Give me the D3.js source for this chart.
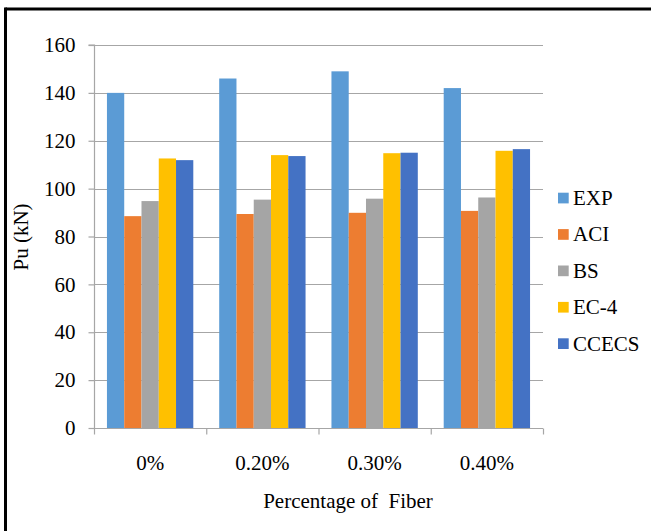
<!DOCTYPE html>
<html><head><meta charset="utf-8">
<script src="https://cdn.jsdelivr.net/npm/d3@7"></script>
<style>body{margin:0;background:#fff}svg{display:block}</style>
</head><body><svg id="c" width="651" height="531"></svg>
<script>
const categories = ["0%", "0.20%", "0.30%", "0.40%"];
const seriesNames = ["EXP", "ACI", "BS", "EC-4", "CCECS"];
const EXP = [140, 146, 149, 142];
const ACI = [88.5, 89.4, 89.9, 90.7];
const BS = [94.8, 95.4, 95.8, 96.3];
const EC4 = [112.6, 114, 114.8, 115.8];
const CCECS = [111.9, 113.6, 115, 116.5];
const yTicks = [0, 20, 40, 60, 80, 100, 120, 140, 160];
const colors = ["#5b9bd5", "#ed7d31", "#a5a5a5", "#ffc000", "#4472c4"];
const seriesValues = [EXP, ACI, BS, EC4, CCECS];

(function(){
const FONT = "Liberation Serif";
const FS = 21;
const svg = d3.select("#c");
// frame
svg.append("line").attr("x1",5.5).attr("x2",651).attr("y1",9).attr("y2",9).attr("stroke","#000").attr("stroke-width",3);
svg.append("line").attr("x1",5.5).attr("x2",5.5).attr("y1",7.5).attr("y2",531).attr("stroke","#000").attr("stroke-width",3);

const pLeft = 94, pRight = 543, pTop = 45, pBottom = 428;
const x = d3.scaleBand().domain(categories).range([pLeft, pRight]).paddingInner(0).paddingOuter(0);
const xs = d3.scaleBand().domain(seriesNames).range([0, x.bandwidth()]).paddingOuter(0.75).paddingInner(0);
const y = d3.scaleLinear().domain([0, 160]).range([pBottom, pTop]);

// gridlines
svg.append("g").selectAll("line").data(yTicks.filter(d=>d>0)).join("line")
  .attr("x1", pLeft).attr("x2", pRight)
  .attr("y1", d=>Math.round(y(d))+0.5).attr("y2", d=>Math.round(y(d))+0.5)
  .attr("stroke", "#a6a6a6").attr("stroke-width", 1.2);

// bars
const g = svg.append("g");
seriesNames.forEach((s, si) => {
  g.selectAll(null).data(seriesValues[si]).join("rect")
    .attr("x", (d,i)=>x(categories[i]) + xs(s))
    .attr("width", xs.bandwidth())
    .attr("y", d=>y(d))
    .attr("height", d=>pBottom - y(d))
    .attr("fill", colors[si]);
});

// y axis
const yAxis = d3.axisLeft(y).tickValues(yTicks).tickSize(6).tickPadding(13);
const ya = svg.append("g").attr("transform", `translate(${pLeft+0.5},0)`).call(yAxis);
ya.attr("font-family", FONT).attr("font-size", FS);
ya.select(".domain").attr("stroke","#a6a6a6").attr("stroke-width",1.2).attr("d",`M-6,${pTop}H0V${pBottom}`);
ya.selectAll(".tick line").attr("stroke","#a6a6a6").attr("stroke-width",1.2);
ya.selectAll(".tick text").attr("font-family",FONT).attr("font-size",FS).attr("fill","#000");

// x axis
const xa = svg.append("g").attr("transform", `translate(0,${pBottom+0.5})`);
xa.append("line").attr("x1",pLeft).attr("x2",pRight).attr("stroke","#a6a6a6").attr("stroke-width",1.2);
const xTickPos = categories.map(c=>x(c)).concat([pRight]);
xa.selectAll(".xt").data(xTickPos).join("line").attr("class","xt")
  .attr("x1",d=>d+0.5).attr("x2",d=>d+0.5).attr("y1",0).attr("y2",6)
  .attr("stroke","#a6a6a6").attr("stroke-width",1.2);
xa.selectAll("text").data(categories).join("text")
  .attr("x", d=>x(d)+x.bandwidth()/2).attr("y", 41.5)
  .attr("text-anchor","middle").attr("font-family",FONT).attr("font-size",FS).text(d=>d);

// axis titles
svg.append("text").attr("x", 348).attr("y", 508).attr("text-anchor","middle")
  .attr("font-family",FONT).attr("font-size",FS).style("white-space","pre").text("Percentage of  Fiber");
svg.append("text").attr("transform","translate(28,237) rotate(-90)").attr("text-anchor","middle")
  .attr("font-family",FONT).attr("font-size",FS).text("Pu (kN)");

// legend
const leg = svg.append("g");
seriesNames.forEach((s, i) => {
  const cy = 198 + i*36.4;
  leg.append("rect").attr("x",558).attr("y",cy-5.3).attr("width",10.7).attr("height",10.7).attr("fill",colors[i]);
  leg.append("text").attr("x",573).attr("y",cy+7).attr("font-family",FONT).attr("font-size",FS).text(s);
});
})();
</script></body></html>
